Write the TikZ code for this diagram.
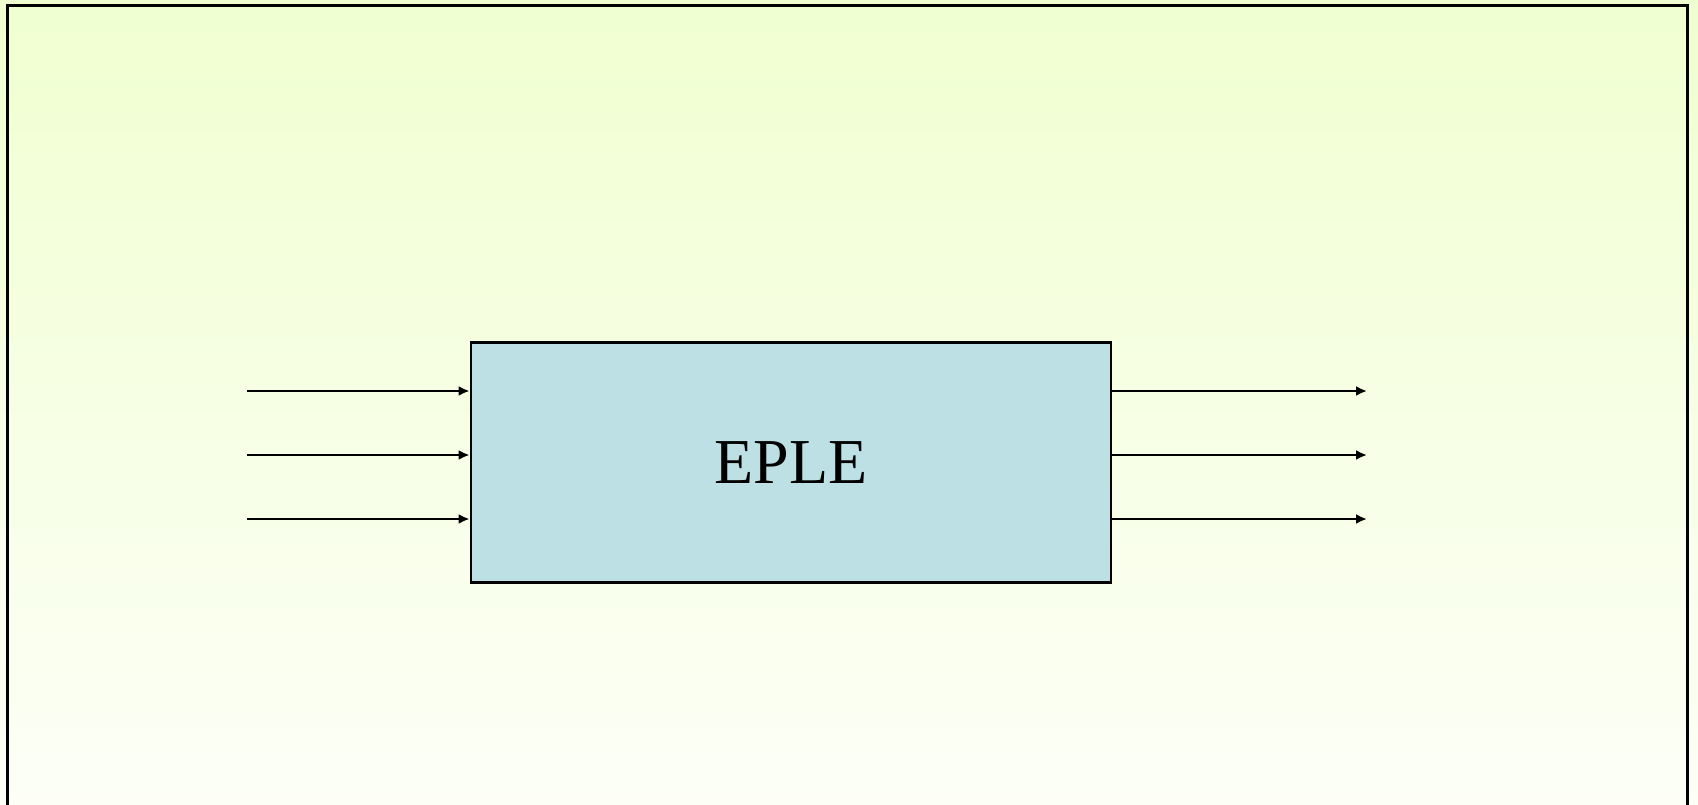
\documentclass[tikz,border=0pt]{standalone}
\usepackage{fontspec}
\setmainfont{Liberation Serif}
\usetikzlibrary{arrows.meta}

\definecolor{bgtop}{RGB}{240,255,208}
\definecolor{bgbottom}{RGB}{253,255,248}
\definecolor{boxfill}{RGB}{188,224,228}

\begin{document}
\begin{tikzpicture}[x=1pt,y=1pt,
    flow/.style={line width=2.4pt,-{Latex[length=11pt,width=10pt]}}]
    \useasboundingbox (0,0) rectangle (1698,804);
    % Background and frame
    \fill[top color=bgtop,bottom color=bgbottom] (0,-20) rectangle (1698,804);
    \draw[line width=3pt] (7,-20) -- (7,798) -- (1687,798) -- (1687,-20);

    % The block
    \node[draw,line width=2.8pt,fill=boxfill,minimum width=640pt,minimum height=240pt,
          font=\fontsize{64}{76}\selectfont] (eple) at (791,341.4) {EPLE};

    % Inputs and outputs
    \foreach \y [count=\i] in {413,349,285} {
        \coordinate (in\i) at (247,\y);
        \coordinate (out\i) at (1367,\y);
        \draw[flow] (in\i) -- (in\i -| eple.west);
        \draw[flow] (in\i -| eple.east) -- (out\i);
    }
\end{tikzpicture}
\end{document}
